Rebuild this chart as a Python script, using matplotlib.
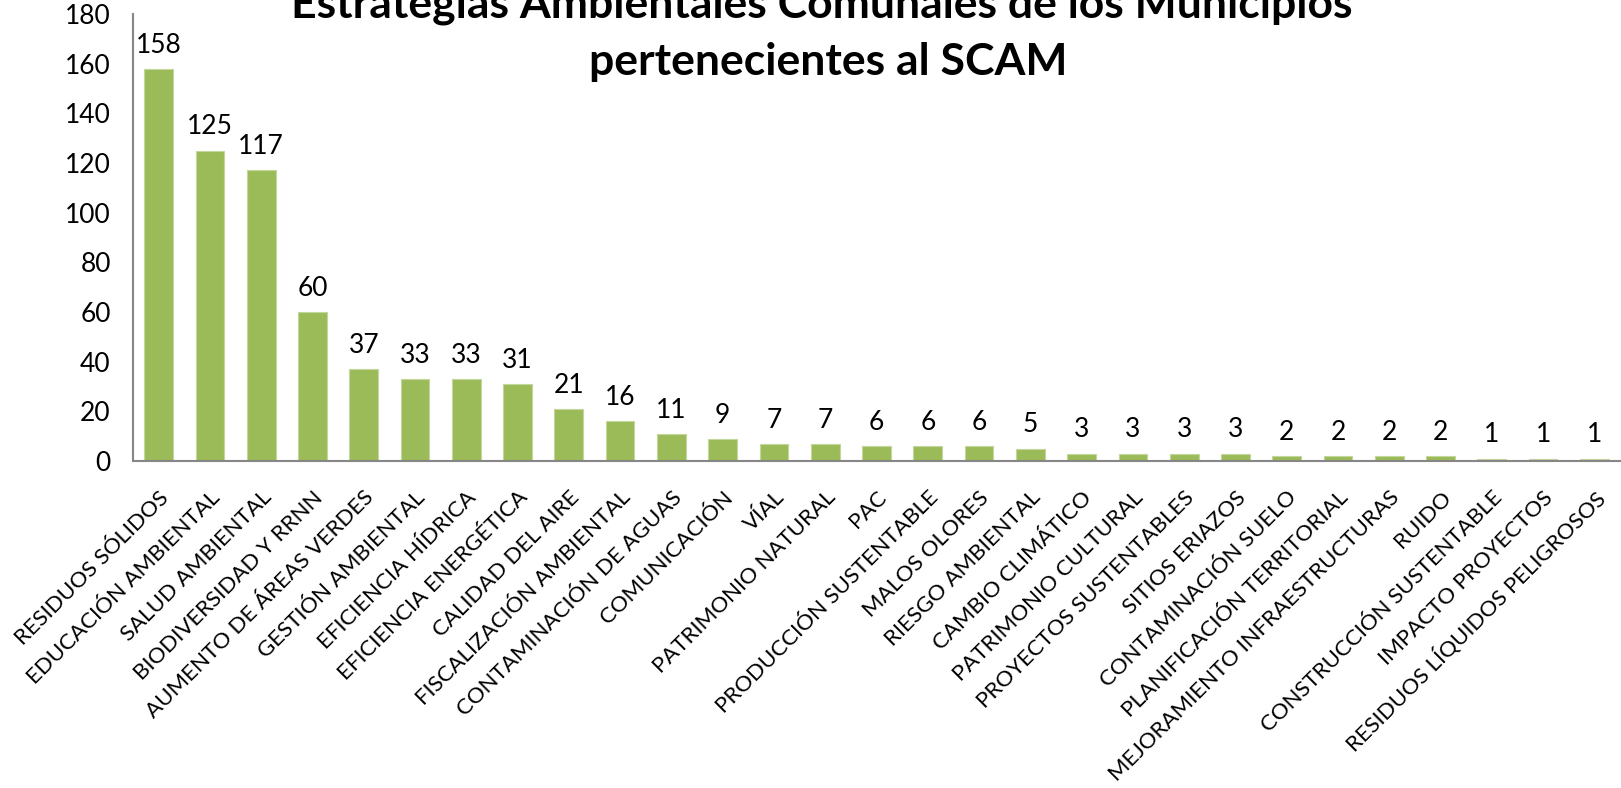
import matplotlib
matplotlib.use("Agg")
import matplotlib.pyplot as plt
import numpy as np

categories = ["RESIDUOS SÓLIDOS", "EDUCACIÓN AMBIENTAL", "SALUD AMBIENTAL", "BIODIVERSIDAD Y RRNN",
              "AUMENTO DE ÁREAS VERDES", "GESTIÓN AMBIENTAL", "EFICIENCIA HÍDRICA", "EFICIENCIA ENERGÉTICA",
              "CALIDAD DEL AIRE", "FISCALIZACIÓN AMBIENTAL", "CONTAMINACIÓN DE AGUAS", "COMUNICACIÓN",
              "VÍAL", "PATRIMONIO NATURAL", "PAC", "PRODUCCIÓN SUSTENTABLE", "MALOS OLORES",
              "RIESGO AMBIENTAL", "CAMBIO CLIMÁTICO", "PATRIMONIO CULTURAL", "PROYECTOS SUSTENTABLES",
              "SITIOS ERIAZOS", "CONTAMINACIÓN SUELO", "PLANIFICACIÓN TERRITORIAL",
              "MEJORAMIENTO INFRAESTRUCTURAS", "RUIDO", "CONSTRUCCIÓN SUSTENTABLE", "IMPACTO PROYECTOS",
              "RESIDUOS LÍQUIDOS PELIGROSOS"]
values = [158, 125, 117, 60, 37, 33, 33, 31, 21, 16, 11, 9, 7, 7, 6, 6, 6, 5, 3, 3, 3, 3, 2, 2, 2, 2, 1, 1, 1]
yticks = [0, 20, 40, 60, 80, 100, 120, 140, 160, 180]

plt.rcParams["font.family"] = ["Lato", "DejaVu Sans"]

fig = plt.figure(figsize=(16.21, 7.88), dpi=100)
ax = fig.add_axes([133 / 1621, 1 - 461 / 788, (1620 - 133) / 1621, (461 - 14) / 788])

x = np.arange(len(categories))
ax.bar(x, values, width=0.56, color="#9BBB59", edgecolor="#C3D69B", linewidth=0.8)

for xi, v in zip(x, values):
    ax.annotate(str(v), (xi, v), xytext=(0, 8), textcoords="offset points",
                ha="center", va="bottom", fontsize=19)

ax.set_xlim(-0.5, len(categories) - 0.5)
ax.set_ylim(0, 180)
ax.set_yticks(yticks)
ax.set_yticklabels([str(t) for t in yticks], fontsize=19)
ax.set_xticks(x)
ax.set_xticklabels(categories, rotation=45, ha="right", rotation_mode="anchor", fontsize=16)
ax.tick_params(axis="both", length=0)
ax.tick_params(axis="y", pad=16)
ax.tick_params(axis="x", pad=19)

for s in ["top", "right"]:
    ax.spines[s].set_visible(False)
for s in ["left", "bottom"]:
    ax.spines[s].set_color("#868686")
    ax.spines[s].set_linewidth(1.5)

fig.text(0.507, 1 - 5 / 788, "Estrategias Ambientales Comunales de los Municipios",
         ha="center", va="center", fontsize=32, fontweight="bold")
fig.text(0.511, 1 - 62 / 788, "pertenecientes al SCAM",
         ha="center", va="center", fontsize=32, fontweight="bold")

fig.savefig("out.png", dpi=100, facecolor="white")
